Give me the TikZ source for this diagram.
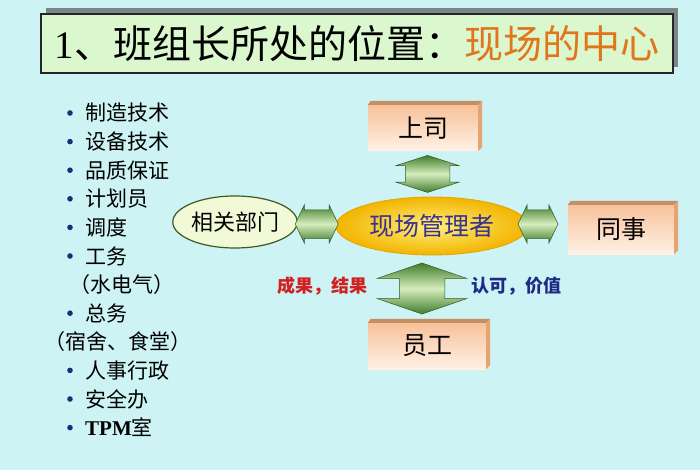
\documentclass[tikz,border=0pt]{standalone}
\usepackage{fontspec}
\setmainfont{Liberation Serif}
\newfontfamily\cjk{Noto Sans CJK SC}
\usetikzlibrary{calc,shapes.arrows,shapes.geometric}
\definecolor{bg}{HTML}{CDF3F4}
\definecolor{titlefill}{HTML}{DBF7CD}
\definecolor{titleshadow}{HTML}{7A8585}
\definecolor{titleorange}{HTML}{E2741C}
\definecolor{bulletc}{HTML}{1F2A78}
\definecolor{facetop}{HTML}{F7C29A}
\definecolor{facebot}{HTML}{FFF1E6}
\definecolor{bevtopc}{HTML}{C48F62}
\definecolor{bevrightc}{HTML}{E7A470}
\definecolor{mgrin}{HTML}{FFF07A}
\definecolor{mgrout}{HTML}{F2B400}
\definecolor{mgredge}{HTML}{E5A500}
\definecolor{mgrtext}{HTML}{3A3194}
\definecolor{deptfill}{HTML}{F1F9D6}
\definecolor{deptedge}{HTML}{3C5A22}
\definecolor{arrdark}{HTML}{3F7D2C}
\definecolor{arrlight}{HTML}{D6EDBC}
\definecolor{arredge}{HTML}{2E5A1E}
\definecolor{labred}{HTML}{D21F1F}
\definecolor{labblue}{HTML}{1E2B85}
\tikzset{
  titlebox/.style={draw=black!85, line width=1.6pt, fill=titlefill, inner sep=0pt},
  listitem/.style={anchor=west, inner sep=0pt, font=\cjk\fontsize{21}{21}\selectfont},
  boxthree/.style={inner sep=0pt, top color=facetop, bottom color=facebot, font=\cjk\fontsize{25}{25}\selectfont},
  bevtop/.style={fill=bevtopc},
  bevright/.style={fill=bevrightc},
  dblarr/.style={double arrow, draw=arredge, line width=0.5pt, inner xsep=0pt,
    top color=arrdark, bottom color=arrdark, middle color=arrlight},
  lab/.style={inner sep=0pt, font=\cjk\bfseries\fontsize{18}{18}\selectfont}
}
\begin{document}
\begin{tikzpicture}[x=1pt,y=-1pt]
\fill[bg] (0,0) rectangle (700,470);
\useasboundingbox (0,0) rectangle (700,470);
% title
\fill[titleshadow] (46,8) rectangle (678,67);
\node[titlebox, minimum width=632, minimum height=59, anchor=north west] (title) at (40,13)
  {\cjk\fontsize{39}{39}\selectfont {\rmfamily 1}、班组长所处的位置：\textcolor{titleorange}{现场的中心}};
% list
\foreach \t/\yy [count=\i] in {制造技术/113, 设备技术/141.6, 品质保证/170.2, 计划员/198.8, 调度/227.4, 工务/256, 总务/313.2, 人事行政/370.4, 安全办/399}{
  \fill[bulletc] (70,\yy) circle (2.8);
  \node[listitem] (li\i) at (85,\yy) {\t};
}
\fill[bulletc] (70,427.6) circle (2.8);
\node[listitem] (li10) at (85,427.6) {{\rmfamily\bfseries TPM}室};
\node[listitem] (lp1) at (69,284.6) {（水电气）};
\node[listitem] (lp2) at (44,341.8) {（宿舍、食堂）};
% boxes
\node[boxthree, minimum width=110, minimum height=46] (boss) at (423,128) {上司};
\node[boxthree, minimum width=106, minimum height=49] (peer) at (621,229.5) {同事};
\node[boxthree, minimum width=118, minimum height=46] (staff) at (427,346) {员工};
\foreach \n in {boss,peer,staff}{
  \fill[bevtop] (\n.north west) -- ++(3,-4) -- ($(\n.north east)+(4,-4)$) -- (\n.north east) -- cycle;
  \fill[bevright] (\n.north east) -- ($(\n.north east)+(4,-4)$) -- ($(\n.south east)+(4,-4)$) -- (\n.south east) -- cycle;
}
% ellipses
\node[ellipse, minimum width=192, minimum height=58, inner sep=0pt, inner color=mgrin, outer color=mgrout, draw=mgredge, line width=0.8pt,
  text=mgrtext, font=\cjk\fontsize{25}{25}\selectfont] (mgr) at (432,226) {现场管理者};
\node[ellipse, minimum width=110, minimum height=52, inner sep=0pt, fill=deptfill, draw=deptedge, line width=1.2pt,
  font=\cjk\fontsize{22}{22}\selectfont] (dept) at (235,222) {相关部门};
% arrows
\node[dblarr, rotate=90, inner ysep=22pt, minimum height=37, minimum width=62, double arrow head extend=9, double arrow tip angle=144] (aup) at ($(boss.south)!0.5!(mgr.north)$) {};
\node[dblarr, rotate=90, inner ysep=22.5pt, minimum height=51, minimum width=89, double arrow head extend=22, double arrow tip angle=142] (adown) at (422,288.5) {};
\node[dblarr, inner ysep=14pt, minimum height=43, minimum width=38, double arrow head extend=5, double arrow tip angle=129] (aleft) at ($(dept.east)!0.5!(mgr.west)$) {};
\node[dblarr, inner ysep=14pt, minimum height=40, minimum width=38, double arrow head extend=5, double arrow tip angle=129] (aright) at (538,224) {};
% labels
\node[lab, text=labred] (l1) at (322,286) {成果，结果};
\node[lab, text=labblue] (l2) at (516,286) {认可，价值};
\end{tikzpicture}
\end{document}
